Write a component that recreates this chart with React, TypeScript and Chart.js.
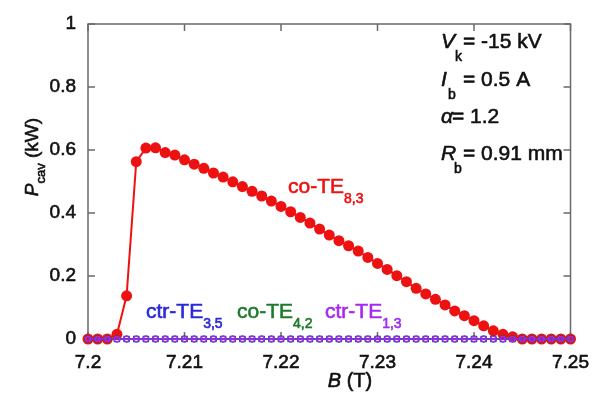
import React, { useEffect, useRef } from "react";
import { Chart, registerables } from "chart.js";

Chart.register(...registerables);

const bField = [
  7.200, 7.201, 7.202, 7.203, 7.204, 7.205, 7.206, 7.207, 7.208, 7.209,
  7.210, 7.211, 7.212, 7.213, 7.214, 7.215, 7.216, 7.217, 7.218, 7.219,
  7.220, 7.221, 7.222, 7.223, 7.224, 7.225, 7.226, 7.227, 7.228, 7.229,
  7.230, 7.231, 7.232, 7.233, 7.234, 7.235, 7.236, 7.237, 7.238, 7.239,
  7.240, 7.241, 7.242, 7.243, 7.244, 7.245, 7.246, 7.247, 7.248, 7.249,
  7.250,
];

const coTE83 = [
  0, 0, 0, 0.015, 0.137, 0.563, 0.606, 0.607, 0.592, 0.584,
  0.569, 0.555, 0.542, 0.527, 0.514, 0.499, 0.484, 0.469, 0.454, 0.438,
  0.421, 0.404, 0.386, 0.368, 0.349, 0.330, 0.312, 0.296, 0.279, 0.259,
  0.240, 0.221, 0.201, 0.182, 0.161, 0.143, 0.126, 0.108, 0.089, 0.074,
  0.058, 0.042, 0.026, 0.015, 0.007, 0, 0, 0, 0, 0,
  0,
];

const ctrTE35 = [
  0, 0, 0, 0, 0, 0, 0, 0, 0, 0,
  0, 0, 0, 0, 0, 0, 0, 0, 0, 0,
  0, 0, 0, 0, 0, 0, 0, 0, 0, 0,
  0, 0, 0, 0, 0, 0, 0, 0, 0, 0,
  0, 0, 0, 0, 0, 0, 0, 0, 0, 0,
  0,
];

const coTE42 = [
  0, 0, 0, 0, 0, 0, 0, 0, 0, 0,
  0, 0, 0, 0, 0, 0, 0, 0, 0, 0,
  0, 0, 0, 0, 0, 0, 0, 0, 0, 0,
  0, 0, 0, 0, 0, 0, 0, 0, 0, 0,
  0, 0, 0, 0, 0, 0, 0, 0, 0, 0,
  0,
];

const ctrTE13 = [
  0, 0, 0, 0, 0, 0, 0, 0, 0, 0,
  0, 0, 0, 0, 0, 0, 0, 0, 0, 0,
  0, 0, 0, 0, 0, 0, 0, 0, 0, 0,
  0, 0, 0, 0, 0, 0, 0, 0, 0, 0,
  0, 0, 0, 0, 0, 0, 0, 0, 0, 0,
  0,
];

const xTickValues = [7.2, 7.21, 7.22, 7.23, 7.24, 7.25];
const xTickLabels = ["7.2", "7.21", "7.22", "7.23", "7.24", "7.25"];
const yTickValues = [0, 0.2, 0.4, 0.6, 0.8, 1];
const yTickLabels = ["0", "0.2", "0.4", "0.6", "0.8", "1"];

const RED = "#ee1111";
const BLUE = "#2a2ad8";
const GREEN = "#1f7a2c";
const PURPLE = "#a42af0";
const FONT = "'Liberation Sans', Arial, sans-serif";

type Part = { t: string; sub?: boolean; it?: boolean; color?: string; x?: number };

function drawRich(ctx: CanvasRenderingContext2D, x: number, y: number, parts: Part[], color: string, size: number, subSize: number, subDy: number) {
  let cx = x;
  ctx.textBaseline = "alphabetic";
  ctx.textAlign = "left";
  ctx.lineWidth = 0.6;
  ctx.lineJoin = "round";
  for (const p of parts) {
    if (p.x !== undefined) cx = p.x;
    const s = p.sub ? subSize : size;
    ctx.font = `${p.it ? "italic " : ""}${s}px ${FONT}`;
    ctx.fillStyle = p.color || color;
    ctx.strokeStyle = p.color || color;
    const yy = p.sub ? y + subDy : y;
    ctx.fillText(p.t, cx, yy);
    ctx.strokeText(p.t, cx, yy);
    cx += ctx.measureText(p.t).width;
  }
}

function richWidth(ctx: CanvasRenderingContext2D, parts: Part[], size: number, subSize: number) {
  let w = 0;
  for (const p of parts) {
    const s = p.sub ? subSize : size;
    ctx.font = `${p.it ? "italic " : ""}${s}px ${FONT}`;
    w += ctx.measureText(p.t).width;
  }
  return w;
}

const framePlugin = {
  id: "frame",
  beforeDatasetsDraw(chart: any) {
    const { ctx, chartArea: a, scales } = chart;
    const x = scales.x;
    const y = scales.y;
    ctx.save();
    ctx.strokeStyle = "#6a6a6a";
    ctx.lineWidth = 1.5;
    ctx.strokeRect(a.left, a.top, a.right - a.left, a.bottom - a.top);
    const tl = 7;
    ctx.beginPath();
    for (const v of xTickValues) {
      const px = x.getPixelForValue(v);
      ctx.moveTo(px, a.bottom);
      ctx.lineTo(px, a.bottom - tl);
      ctx.moveTo(px, a.top);
      ctx.lineTo(px, a.top + tl);
    }
    for (const v of yTickValues) {
      const py = y.getPixelForValue(v);
      ctx.moveTo(a.left, py);
      ctx.lineTo(a.left + tl, py);
      ctx.moveTo(a.right, py);
      ctx.lineTo(a.right - tl, py);
    }
    ctx.stroke();
    ctx.restore();
  },
  afterDraw(chart: any) {
    const { ctx } = chart;
    ctx.save();
    // x axis title
    const xt: Part[] = [{ t: "B", it: true }, { t: " (T)" }];
    const xw = richWidth(ctx, xt, 20, 13);
    drawRich(ctx, 350 - xw / 2, 387, xt, "#111", 20, 13, 5);
    // y axis title (rotated)
    ctx.save();
    ctx.translate(38, 157);
    ctx.rotate(-Math.PI / 2);
    const yt: Part[] = [{ t: "P", it: true }, { t: "cav", sub: true }, { t: " (kW)" }];
    const yw = richWidth(ctx, yt, 19, 13);
    drawRich(ctx, -yw / 2, 0, yt, "#111", 19, 13, 7);
    ctx.restore();

    // curve labels
    drawRich(ctx, 288, 193, [{ t: "co-TE" }, { t: "8,3", sub: true }], RED, 21, 14, 10);
    drawRich(ctx, 146, 318, [{ t: "ctr-TE" }, { t: "3,5", sub: true }], BLUE, 21, 14, 10);
    drawRich(ctx, 237, 318, [{ t: "co-TE" }, { t: "4,2", sub: true }], GREEN, 21, 14, 10);
    drawRich(ctx, 325, 318, [{ t: "ctr-TE" }, { t: "1,3", sub: true }], PURPLE, 21, 14, 10);

    // parameters
    const c = "#111";
    drawRich(ctx, 441, 48, [{ t: "V", it: true }, { t: "k", sub: true, x: 455 }, { t: "= -15 kV", x: 463 }], c, 21, 14, 13);
    drawRich(ctx, 441, 86, [{ t: "I", it: true }, { t: "b", sub: true, x: 448 }, { t: "= 0.5 A", x: 463 }], c, 21, 14, 13);
    drawRich(ctx, 441, 123, [{ t: "\u03b1", it: true }, { t: "= 1.2", x: 452 }], c, 21, 14, 13);
    drawRich(ctx, 441, 160, [{ t: "R", it: true }, { t: "b", sub: true, x: 454 }, { t: "= 0.91 mm", x: 463 }], c, 21, 14, 13);
    ctx.restore();
  },
};

export default function App() {
  const ref = useRef<HTMLCanvasElement>(null);
  useEffect(() => {
    const mk = (vals: number[]) => bField.map((b, i) => ({ x: b, y: vals[i] }));
    const chart = new Chart(ref.current!, {
      type: "line",
      data: {
        datasets: [
          {
            label: "co-TE8,3",
            data: mk(coTE83),
            borderColor: RED,
            backgroundColor: RED,
            borderWidth: 2,
            pointRadius: 5.5,
            pointBorderWidth: 0,
            pointBackgroundColor: RED,
            order: 4,
            clip: false as any,
          },
          {
            label: "co-TE4,2",
            data: mk(coTE42),
            borderColor: GREEN,
            backgroundColor: "rgba(0,0,0,0)",
            borderWidth: 1,
            pointStyle: "rect",
            pointRadius: 3.8,
            pointBorderWidth: 1.2,
            pointBorderColor: GREEN,
            pointBackgroundColor: "rgba(0,0,0,0)",
            order: 3,
            clip: false as any,
          },
          {
            label: "ctr-TE3,5",
            data: mk(ctrTE35),
            borderColor: BLUE,
            backgroundColor: "rgba(0,0,0,0)",
            borderWidth: 1,
            pointRadius: 3.2,
            pointBorderWidth: 1,
            pointBorderColor: BLUE,
            pointBackgroundColor: "rgba(0,0,0,0)",
            order: 2,
            clip: false as any,
          },
          {
            label: "ctr-TE1,3",
            data: mk(ctrTE13),
            borderColor: PURPLE,
            backgroundColor: "rgba(0,0,0,0)",
            borderWidth: 1.2,
            pointRadius: 2.6,
            pointBorderWidth: 1.3,
            pointBorderColor: PURPLE,
            pointBackgroundColor: "rgba(0,0,0,0)",
            order: 1,
            clip: false as any,
          },
        ],
      },
      options: {
        responsive: false,
        animation: false,
        layout: { padding: { left: 0, top: 24, right: 21, bottom: 0 } },
        plugins: { legend: { display: false }, tooltip: { enabled: false } },
        scales: {
          x: {
            type: "linear",
            min: 7.2,
            max: 7.25,
            afterBuildTicks: (s: any) => {
              s.ticks = xTickValues.map((v) => ({ value: v }));
            },
            afterFit: (s: any) => {
              s.height = 57;
            },
            grid: { display: false, drawTicks: false },
            border: { display: false },
            ticks: {
              autoSkip: false,
              maxRotation: 0,
              padding: 12,
              color: "#111",
              textStrokeColor: "#111",
              textStrokeWidth: 0.6,
              font: { family: FONT, size: 19 },
              callback: (_v: any, i: number) => xTickLabels[i],
            },
          },
          y: {
            type: "linear",
            min: 0,
            max: 1,
            afterBuildTicks: (s: any) => {
              s.ticks = yTickValues.map((v) => ({ value: v }));
            },
            afterFit: (s: any) => {
              s.width = 88;
            },
            grid: { display: false, drawTicks: false },
            border: { display: false },
            ticks: {
              autoSkip: false,
              padding: 12,
              color: "#111",
              textStrokeColor: "#111",
              textStrokeWidth: 0.6,
              font: { family: FONT, size: 19 },
              callback: (_v: any, i: number) => yTickLabels[i],
            },
          },
        },
      },
      plugins: [framePlugin],
    });
    return () => chart.destroy();
  }, []);
  return (
    <div style={{ position: "fixed", left: 0, top: 0, width: 601, height: 396, background: "#fff" }}>
      <canvas ref={ref} width={601} height={396} />
    </div>
  );
}
